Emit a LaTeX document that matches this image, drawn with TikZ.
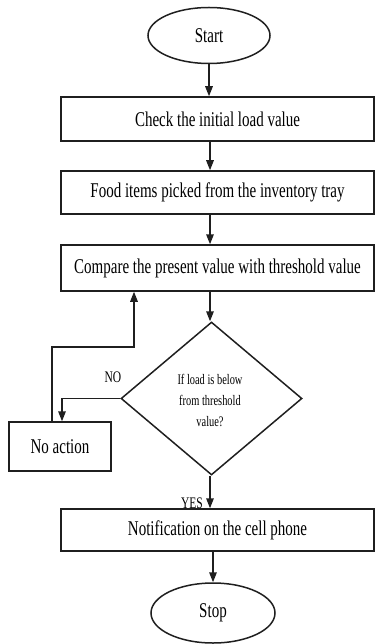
\documentclass[tikz,border=0pt]{standalone}
\usepackage{fontspec}
\usepackage{graphicx}
\setmainfont{Liberation Serif}
\usetikzlibrary{shapes.geometric,arrows.meta}
\newcommand{\tl}[1]{\scalebox{1}[1.4]{#1}}
\tikzset{
  ln/.style={line width=1.5pt, draw=black!88},
  term/.style={ln, ellipse, inner sep=0pt, font=\fontsize{15}{18}\selectfont},
  box/.style={ln, rectangle, inner sep=0pt, minimum width=313pt, font=\fontsize{15}{18}\selectfont},
  dec/.style={ln, diamond, inner sep=0pt, minimum width=181pt, minimum height=153pt},
  arr/.style={ln, -{Triangle[length=10pt,width=7.5pt]}},
  lbl/.style={inner sep=0pt, font=\fontsize{11.5}{13}\selectfont}
}
\begin{document}
\begin{tikzpicture}[x=1pt,y=1pt]
\useasboundingbox (0,0) rectangle (375,-644);
\node[term, minimum width=122pt, minimum height=56pt] (start) at (209,-35.5) {\tl{Start}};
\node[box, minimum height=44pt] (b1) at (217.5,-119) {\tl{Check the initial load value}};
\node[box, minimum height=43pt] (b2) at (217.5,-192.5) {\tl{Food items picked from the inventory tray}};
\node[box, minimum height=46pt] (b3) at (217.5,-268) {\tl{Compare the present value with threshold value}};
\node[dec] (dia) at (211.5,-398.5) {};
\node[inner sep=0pt] (diat) at (210,-401) {\scalebox{1}[1.4]{\fontsize{10.4}{15}\selectfont\begin{tabular}{@{}c@{}}If load is below\\from threshold\\value?\end{tabular}}};
\node[box, minimum width=102pt, minimum height=49pt, font=\fontsize{15}{18}\selectfont] (na) at (60,-446.5) {\tl{No action}};
\node[box, minimum height=42pt] (b4) at (217.5,-530) {\tl{Notification on the cell phone}};
\node[term, minimum width=124pt, minimum height=60pt] (stop) at (213,-613) {\tl{Stop}};
\node[lbl] (no) at (113,-377) {\tl{NO}};
\node[lbl] (yes) at (192,-503) {\tl{YES}};
\coordinate (nx) at (62,0);
\coordinate (lp) at (52,-347);
\coordinate (rp) at (134,-347);
\coordinate (ax) at (210,0);
\draw[arr] (start.south) -- (start.south |- b1.north);
\draw[arr] (b1.south -| ax) -- (b2.north -| ax);
\draw[arr] (b2.south -| ax) -- (b3.north -| ax);
\draw[arr] (b3.south -| ax) -- (dia.north -| ax);
\draw[arr] (dia.west) -| (na.north -| nx);
\draw[arr] (na.north -| lp) -- (lp) -- (rp) -- (b3.south -| rp);
\draw[arr] (dia.south -| ax) -- (b4.north -| ax);
\draw[arr] (b4.south -| stop.north) -- (stop.north);
\end{tikzpicture}
\end{document}
